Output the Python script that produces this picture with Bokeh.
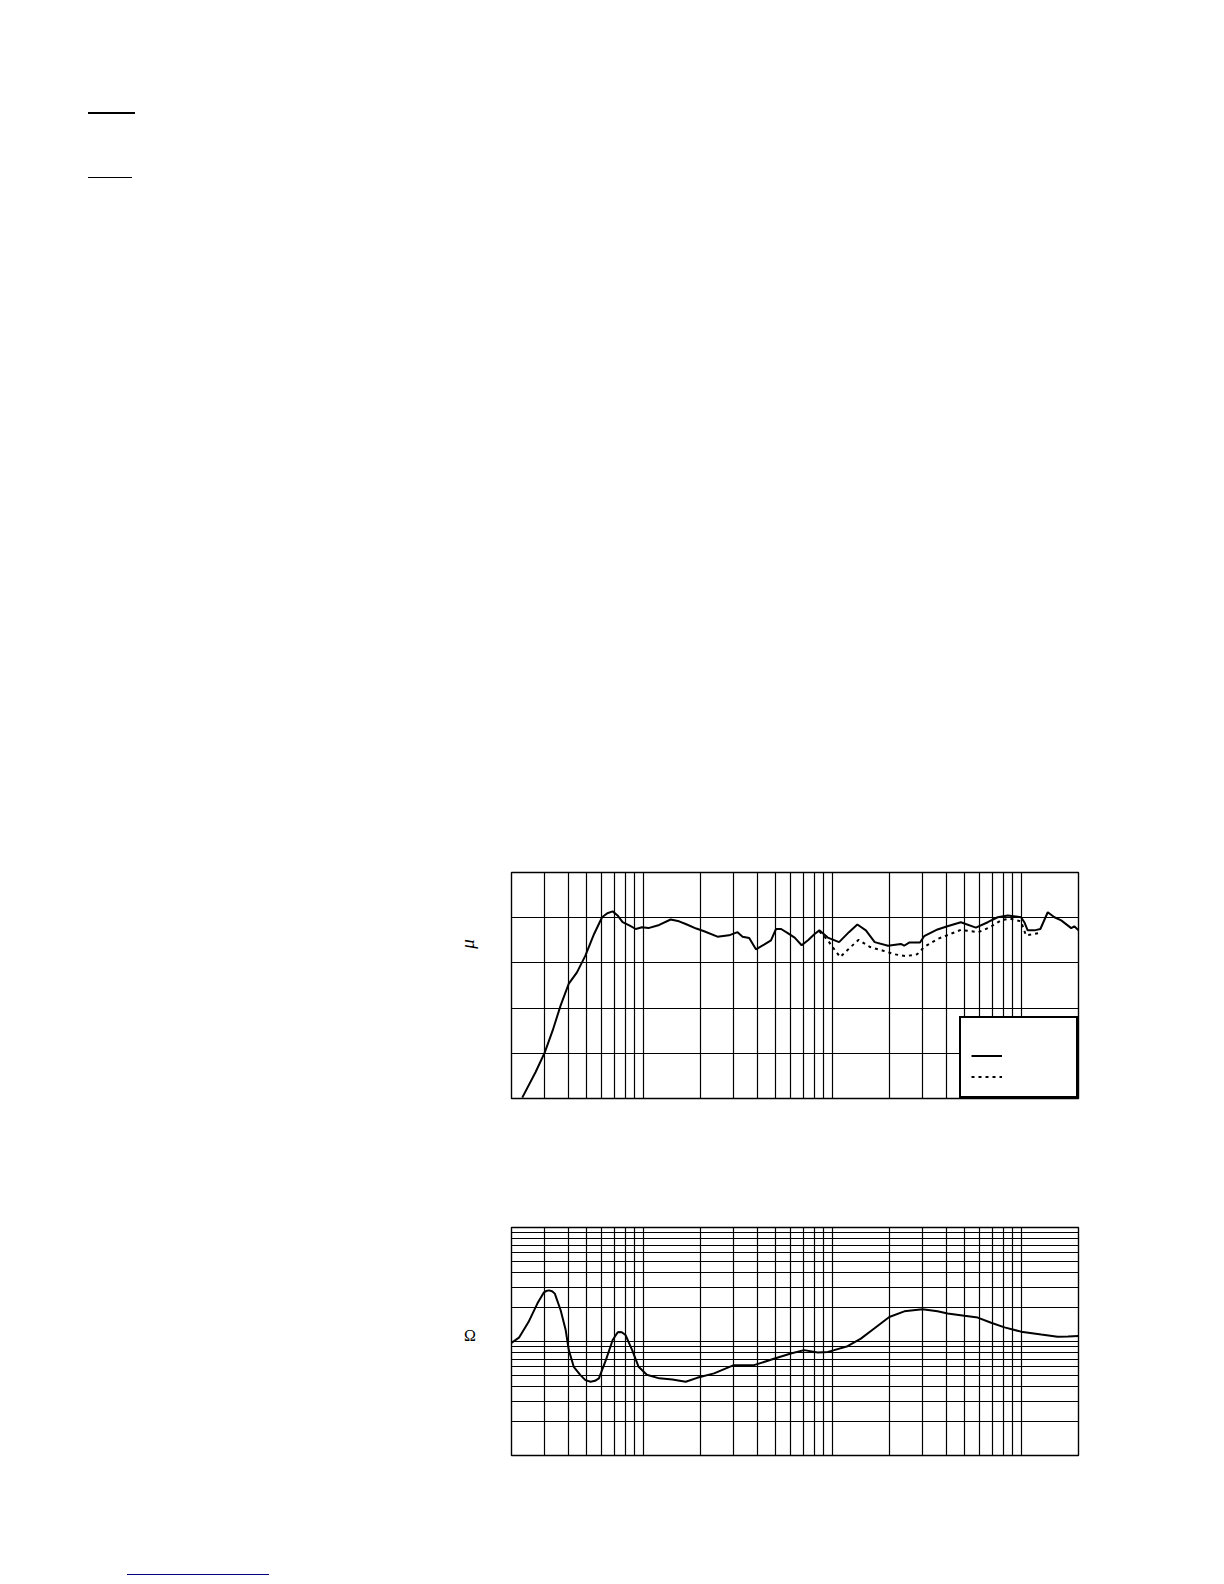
from bokeh.plotting import figure
from bokeh.models import Range1d, FixedTicker, Legend, LegendItem, Div, Spacer
from bokeh.layouts import row, column
from bokeh.embed import file_html
from bokeh.resources import INLINE

# ---- Frequency response (SPL, dB) ----
freq_0deg = [22.8, 26.8, 30, 33.0, 36.4, 40.2, 44.4, 49.2, 54.7, 60.3, 64.3, 68.6, 72.8, 77.4, 84.0,
             90.9, 98.1, 106, 121, 139, 154, 167, 190, 209, 246, 283, 314, 334, 362, 393, 436, 472,
             502, 534, 579, 630, 686, 741, 803, 851, 943, 1082, 1220,
             1352, 1500, 1670, 1965, 2296, 2390, 2540, 2900, 3050, 3590, 4050, 4770, 5730, 6620, 7470,
             8450, 9930, 10340, 10770, 11680, 12570, 13750, 14920, 16200, 18300, 19000, 20000]
spl_0deg = [50.2, 55.8, 60.2, 65.0, 70.6, 75.4, 77.9, 81.6, 86.4, 90.1, 91.0, 91.4, 90.5, 89.0, 88.3,
            87.5, 87.9, 87.7, 88.4, 89.6, 89.2, 88.6, 87.6, 87.0, 85.8, 86.1, 86.8, 85.8, 85.5, 83.0, 84.1, 85.0,
            87.5, 87.5, 86.6, 85.6, 83.9, 85.0, 86.4, 87.2, 85.6, 84.6, 86.8,
            88.5, 87.2, 84.6, 83.8, 84.2, 83.8, 84.5, 84.5, 85.9, 87.4, 88.1, 89.0, 87.8, 89.0, 90.1,
            90.5, 90.1, 89.0, 87.2, 87.2, 87.5, 91.2, 90.1, 89.4, 87.7, 88.1, 87.2]

freq_30deg = [851, 943, 1000, 1096, 1245, 1373, 1580, 1850, 2130, 2440, 2800, 3050, 3590, 4200,
              4770, 5920, 6800, 7770, 8640, 9930, 10540, 12400]
spl_30deg = [87.0, 85.0, 83.5, 81.3, 83.5, 85.1, 83.5, 82.7, 81.9, 81.5, 81.9, 83.5, 85.3, 86.4,
             87.3, 86.8, 87.9, 89.4, 89.8, 89.2, 86.1, 86.6]

# ---- Impedance (ohm) ----
freq_imp = [19.8, 21.9, 24.6, 27.4, 29.6, 30.5, 31.6, 32.8, 33.9, 36.4, 38.7, 40.2, 42.7, 46.2, 49.2,
            52.4, 55.3, 58.0, 63.2, 68.6, 72.8, 74.0, 76.7, 80.2, 87.0, 94.1, 104, 121, 142, 167, 192,
            236, 300, 384, 494, 601, 707, 834, 943,
            1020, 1200, 1411, 1660, 1995, 2395, 2990, 3590, 4060, 4980, 5860, 6900, 8120, 9930,
            12700, 15500, 17600, 19900]
impedance = [9.6, 10.8, 14.8, 21.5, 26.8, 27.7, 28.1, 27.6, 26.3, 18.8, 12.6, 8.4, 6.0, 5.1, 4.58,
             4.43, 4.52, 4.75, 6.9, 10.3, 12.0, 12.1, 12.05, 11.4, 8.4, 6.0, 5.1, 4.75, 4.65, 4.43, 4.8,
             5.25, 6.2, 6.2, 7.1, 7.85, 8.4, 8.0, 8.1,
             8.4, 9.1, 10.6, 13.0, 16.4, 18.4, 19.2, 18.4, 17.6, 16.8, 16.2, 14.6, 13.3, 12.2,
             11.5, 11.0, 11.05, 11.2]

freq_grid = [20, 30, 40, 50, 60, 70, 80, 90, 100, 200, 300, 400, 500, 600, 700, 800, 900,
             1000, 2000, 3000, 4000, 5000, 6000, 7000, 8000, 9000, 10000]
spl_grid = [60, 70, 80, 90]
imp_grid = [2, 3, 4, 5, 6, 7, 8, 9, 10, 20, 30, 40, 50, 60, 70, 80, 90]


def style(p, xticks, yticks):
    p.xgrid.ticker = FixedTicker(ticks=xticks)
    p.ygrid.ticker = FixedTicker(ticks=yticks)
    for g in (p.xgrid, p.ygrid):
        g.grid_line_color = "black"
        g.grid_line_width = 1.2
        g.grid_line_alpha = 1.0
    p.outline_line_color = "black"
    p.outline_line_width = 1.4
    p.outline_line_alpha = 1.0


p1 = figure(width=610, height=260, x_axis_type="log", x_range=Range1d(20, 20000),
            y_range=Range1d(50, 100), x_axis_location=None, y_axis_location=None,
            title=None, toolbar_location=None, output_backend="svg",
            min_border_left=31, min_border_right=12, min_border_top=22, min_border_bottom=12)
style(p1, freq_grid, spl_grid)
r30 = p1.line(freq_30deg, spl_30deg, line_color="black", line_width=2, line_dash="3 4")
r0 = p1.line(freq_0deg, spl_0deg, line_color="black", line_width=2)
legend = Legend(items=[LegendItem(label=" ", renderers=[r0]), LegendItem(label=" ", renderers=[r30])],
                location="bottom_right", margin=0, padding=10, spacing=2,
                glyph_width=31, glyph_height=19, label_height=19, label_width=59, label_standoff=5,
                title=" ", title_text_font_size="10px", title_standoff=7,
                label_text_font_size="11px",
                border_line_color="black", border_line_width=2, border_line_alpha=1.0,
                background_fill_color="white", background_fill_alpha=1.0)
p1.add_layout(legend, "center")

p2 = figure(width=610, height=360, x_axis_type="log", y_axis_type="log",
            x_range=Range1d(20, 20000), y_range=Range1d(1, 100),
            x_axis_location=None, y_axis_location=None,
            title=None, toolbar_location=None, output_backend="svg",
            min_border_left=31, min_border_right=12, min_border_top=117, min_border_bottom=15)
style(p2, freq_grid, imp_grid)
p2.line(freq_imp, impedance, line_color="black", line_width=2)

left_html = (
    '<div style="position:relative;width:480px;height:1576px;">'
    '<div style="position:absolute;left:88px;top:112px;width:47px;height:2px;background:#000;"></div>'
    '<div style="position:absolute;left:88px;top:177px;width:44px;height:1px;background:#000;"></div>'
    '<div style="position:absolute;left:127px;top:1574px;width:142px;height:1px;background:#000080;"></div>'
    '<div style="position:absolute;left:457px;top:933px;width:22px;height:22px;line-height:22px;'
    'text-align:center;transform:rotate(-90deg);font-family:\'Liberation Serif\';font-style:italic;'
    'font-size:19px;color:#000;">μ</div>'
    '<div style="position:absolute;left:460px;top:1326px;width:20px;height:20px;line-height:20px;'
    'text-align:center;font-family:\'Liberation Serif\';font-size:16px;color:#000;">Ω</div>'
    '</div>'
)
left = Div(text=left_html, width=480, height=1576, margin=0)

layout = row(left, column(Spacer(width=610, height=850, margin=0), p1, p2, spacing=0), spacing=0)

open("out.html", "w", encoding="utf-8").write(file_html(layout, INLINE))
